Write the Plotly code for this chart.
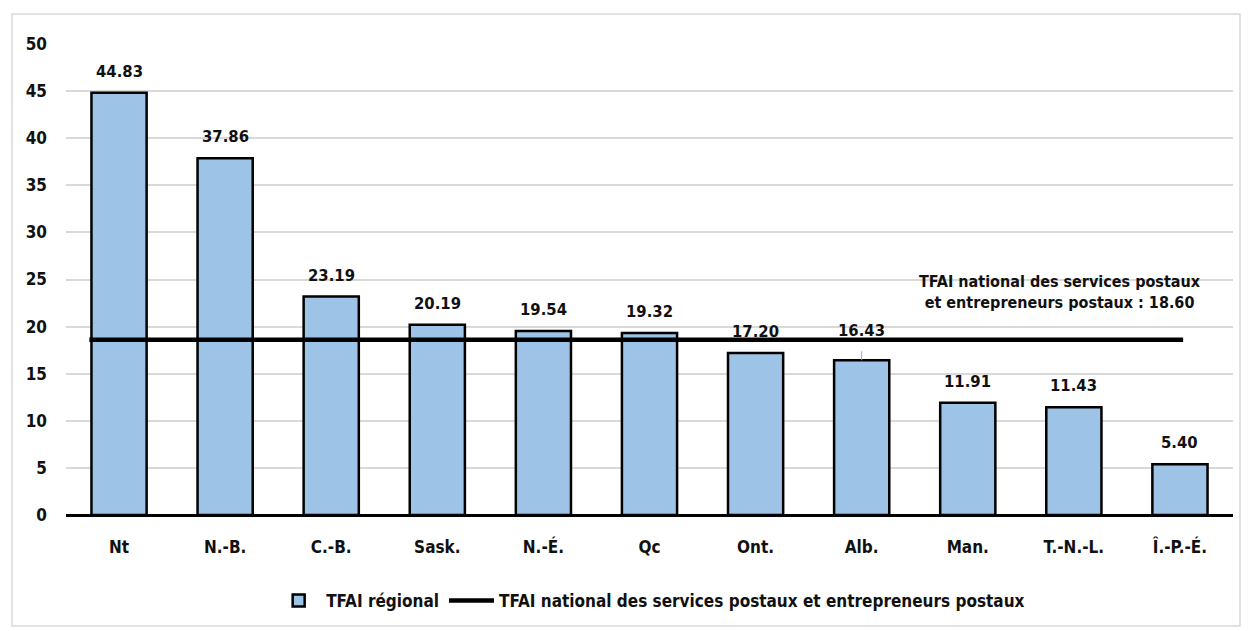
import plotly.graph_objects as go

regions = ["Nt", "N.-B.", "C.-B.", "Sask.", "N.-É.", "Qc", "Ont.", "Alb.", "Man.", "T.-N.-L.", "Î.-P.-É."]
tfai_regional = [44.83, 37.86, 23.19, 20.19, 19.54, 19.32, 17.20, 16.43, 11.91, 11.43, 5.40]
tfai_national = 18.60
y_ticks = [0, 5, 10, 15, 20, 25, 30, 35, 40, 45, 50]

FONT = "DejaVu Sans Condensed, Liberation Sans, Arial, sans-serif"
idx = list(range(len(regions)))

fig = go.Figure()
fig.add_trace(go.Bar(
    x=idx, y=tfai_regional, width=0.52,
    marker=dict(color="#9dc3e6", line=dict(color="black", width=2.5)),
    name="<b>TFAI régional</b>",
))
# national reference line running across the categories
fig.add_trace(go.Scatter(
    x=[idx[0] - 0.28, idx[-1] + 0.03], y=[tfai_national, tfai_national],
    mode="lines", line=dict(color="black", width=4.5),
    name="<b>TFAI national des services postaux et entrepreneurs postaux</b>",
))

annotations = []
for i, v in zip(idx, tfai_regional):
    shift = 18 if regions[i] == "Alb." else 10
    annotations.append(dict(
        x=i, y=v, text=f"<b>{v:.2f}</b>", showarrow=False,
        yanchor="bottom", yshift=shift, font=dict(family=FONT, size=16.5, color="#111"),
    ))
annotations.append(dict(
    x=8.87, y=23.7,
    text=f"<b>TFAI national des services postaux<br>et entrepreneurs postaux : {tfai_national:.2f}</b>",
    showarrow=False, font=dict(family=FONT, size=16, color="#111"), align="center",
))

shapes = [
    # chart frame
    dict(type="rect", xref="paper", yref="paper", x0=-0.0463, x1=1.006, y0=-0.2357, y1=1.0637,
         line=dict(color="#d9d9d9", width=1.5), layer="below"),
    # leader line for the Alb. label
    dict(type="line", xref="x", yref="y", x0=7, x1=7, ysizemode="pixel", yanchor=16.43, y0=0, y1=9,
         line=dict(color="#a6a6a6", width=1)),
]

fig.update_layout(
    width=1248, height=631,
    margin=dict(l=66, r=15, t=44, b=116),
    paper_bgcolor="white", plot_bgcolor="white",
    font=dict(family=FONT, size=16, color="#111"),
    bargap=0.48,
    showlegend=True,
    legend=dict(orientation="h", x=0.501, xanchor="center", y=-0.1826, yanchor="middle",
                font=dict(family=FONT, size=17, color="#111"), itemwidth=45,
                traceorder="normal"),
    annotations=annotations,
    shapes=shapes,
    xaxis=dict(range=[-0.5, len(regions) - 0.5], tickvals=idx, ticktext=[f"<b>{r}</b>" for r in regions],
               showgrid=False, zeroline=False, showline=False, ticks="", ticklabelstandoff=20,
               tickfont=dict(family=FONT, size=17, color="#111")),
    yaxis=dict(range=[0, 50], tickvals=y_ticks, ticktext=[f"<b>{t}</b>" for t in y_ticks],
               showgrid=True, gridcolor="#d9d9d9", gridwidth=1.5,
               zeroline=True, zerolinecolor="black", zerolinewidth=3,
               showline=False, ticks="", ticklabelstandoff=18,
               tickfont=dict(family=FONT, size=17, color="#111")),
)

fig.write_html("out.html")
